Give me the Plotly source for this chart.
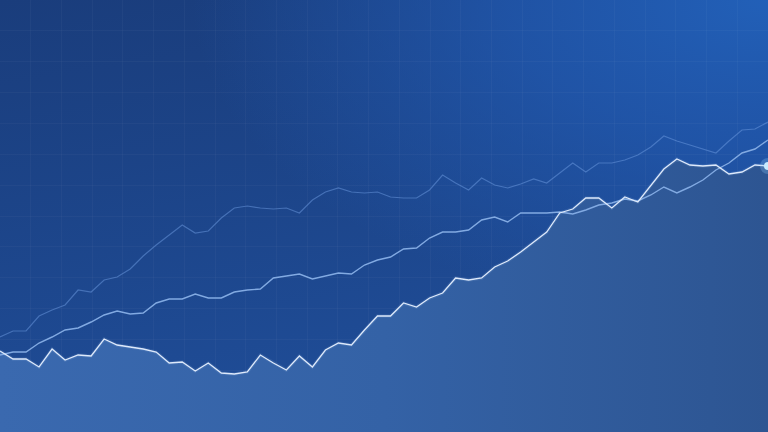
import base64
import plotly.graph_objects as go

# index positions (60 samples)
steps = list(range(60))

# series values
series_main = [81, 73, 73, 65, 83, 72, 77, 76, 93, 87,
               85, 83, 80, 69, 70, 61, 69, 59, 58, 60,
               77, 69, 62, 76, 65, 82, 89, 87, 102, 116,
               116, 129, 125, 134, 139, 154, 152, 154, 165, 171,
               180, 190, 200, 219, 223, 234, 234, 224, 235, 230,
               247, 263, 273, 267, 266, 267, 258, 260, 267, 266]

series_mid = [77, 80, 80, 89, 95, 102, 104, 110, 117, 121,
              118, 119, 129, 133, 133, 138, 134, 134, 140, 142,
              143, 154, 156, 158, 153, 156, 159, 158, 167, 172,
              175, 183, 184, 194, 200, 200, 202, 212, 215, 210,
              219, 219, 219, 220, 218, 222, 227, 229, 233, 231,
              237, 245, 239, 245, 252, 262, 269, 279, 283, 292]

series_top = [95, 101, 101, 116, 122, 127, 142, 140, 152, 155,
              163, 176, 187, 197, 207, 199, 201, 214, 224, 226,
              224, 223, 224, 219, 232, 240, 244, 240, 239, 240,
              235, 234, 234, 242, 257, 249, 242, 254, 247, 244,
              248, 253, 249, 259, 269, 260, 269, 269, 272, 277,
              285, 296, 291, 287, 283, 279, 291, 302, 303, 310]

# background gradient as an SVG image
svg = """<svg xmlns='http://www.w3.org/2000/svg' width='768' height='432' viewBox='0 0 768 432' preserveAspectRatio='none'>
<defs>
<linearGradient id='base' x1='0' y1='0' x2='0.3' y2='1'>
<stop offset='0' stop-color='#1a3d7c'/>
<stop offset='1' stop-color='#1f4d98'/>
</linearGradient>
<radialGradient id='hi' cx='1' cy='0' r='0.75'>
<stop offset='0' stop-color='#2260b8' stop-opacity='1'/>
<stop offset='0.45' stop-color='#2159b0' stop-opacity='0.75'/>
<stop offset='1' stop-color='#2159b0' stop-opacity='0'/>
</radialGradient>
</defs>
<rect x='0' y='0' width='768' height='432' fill='url(#base)'/>
<rect x='0' y='0' width='768' height='432' fill='url(#hi)'/>
</svg>"""
bg_uri = "data:image/svg+xml;base64," + base64.b64encode(svg.encode()).decode()

fig = go.Figure()

# filled area under main series
fig.add_trace(go.Scatter(
    x=steps, y=series_main, mode="lines", line=dict(width=0),
    fill="tozeroy",
    fillgradient=dict(type="horizontal",
                      colorscale=[[0, "#3a69af"], [0.5, "#3462a6"], [1, "#2d5592"]]),
    hoverinfo="skip"))

fig.add_trace(go.Scatter(
    x=steps, y=series_top, mode="lines",
    line=dict(color="rgba(110,155,225,0.5)", width=1.2)))

fig.add_trace(go.Scatter(
    x=steps, y=series_mid, mode="lines",
    line=dict(color="#82aae2", width=1.4)))

# glow for main line
fig.add_trace(go.Scatter(
    x=steps, y=series_main, mode="lines",
    line=dict(color="rgba(200,225,255,0.10)", width=3.5)))
fig.add_trace(go.Scatter(
    x=steps, y=series_main, mode="lines",
    line=dict(color="#dde9fb", width=1.3)))

# end-point dot with glow
fig.add_trace(go.Scatter(
    x=[steps[-1]], y=[series_main[-1]], mode="markers",
    marker=dict(size=16, color="rgba(150,210,255,0.25)")))
fig.add_trace(go.Scatter(
    x=[steps[-1]], y=[series_main[-1]], mode="markers",
    marker=dict(size=8, color="#c8ecff")))

fig.update_layout(
    width=768, height=432,
    margin=dict(l=0, r=0, t=0, b=0),
    showlegend=False,
    paper_bgcolor="#1c4488",
    plot_bgcolor="rgba(0,0,0,0)",
    images=[dict(source=bg_uri, xref="paper", yref="paper", x=0, y=1,
                 sizex=1, sizey=1, sizing="stretch", layer="below",
                 xanchor="left", yanchor="top")],
)
fig.update_xaxes(range=[0, 59], showticklabels=False, zeroline=False,
                 showgrid=True, gridcolor="rgba(255,255,255,0.03)", gridwidth=1,
                 tick0=0, dtick=59 / 25, ticks="", showline=False)
fig.update_yaxes(range=[0, 432], showticklabels=False, zeroline=False,
                 showgrid=True, gridcolor="rgba(255,255,255,0.03)", gridwidth=1,
                 tick0=0, dtick=432 / 14, ticks="", showline=False)

fig.write_html("out.html", config={"displayModeBar": False},
               post_script="document.body.style.margin='0';document.body.style.overflow='hidden';")
